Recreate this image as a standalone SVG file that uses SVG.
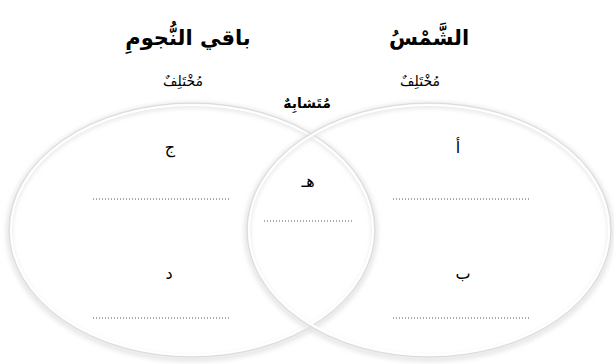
<svg xmlns="http://www.w3.org/2000/svg" width="614" height="364" viewBox="0 0 614 364">
<defs>
<filter id="sh" x="-10%" y="-10%" width="120%" height="125%">
<feGaussianBlur stdDeviation="2.5"/>
</filter>
</defs>
<style>
.t{font-family:"DejaVu Sans",sans-serif;fill:#000;text-anchor:middle;direction:rtl}
.title{font-size:21px;font-weight:bold}
.sub{font-size:14px}
.lbl{font-size:16px}
.shadow{fill:none;stroke:#e2e2e2;stroke-width:5;filter:url(#sh)}
.ring{fill:none;stroke:#dadada;stroke-width:1}
.inner{fill:none;stroke:#ffffff;stroke-width:2}
.dots{stroke:#555;stroke-width:1;stroke-dasharray:1 2}
</style>
<rect width="614" height="364" fill="#fff"/>
<g id="venn">
<g id="left-circle">
<ellipse class="shadow" cx="192" cy="232" rx="183" ry="127"/>
<ellipse class="ring" cx="192" cy="230" rx="183" ry="127"/>
<ellipse class="inner" cx="192" cy="230" rx="181" ry="125"/>
</g>
<g id="right-circle">
<ellipse class="shadow" cx="429" cy="232" rx="182" ry="127"/>
<ellipse class="ring" cx="429" cy="230" rx="182" ry="127"/>
<ellipse class="inner" cx="429" cy="230" rx="180" ry="125"/>
</g>
</g>
<g id="titles">
<text class="t title" x="429" y="45">الشَّمْسُ</text>
<text class="t title" x="188" y="45">باقي النُّجومِ</text>
<text class="t sub" x="183" y="86">مُخْتَلِفٌ</text>
<text class="t sub" x="420" y="86">مُخْتَلِفٌ</text>
<text class="t sub" x="307" y="108" font-weight="bold">مُتَشابِهٌ</text>
</g>
<g id="labels">
<text class="t lbl" x="170" y="153">ج</text>
<text class="t lbl" x="458" y="153">أ</text>
<text class="t lbl" x="308" y="187">هـ</text>
<text class="t lbl" x="169" y="279">د</text>
<text class="t lbl" x="463" y="279">ب</text>
</g>
<g id="lines">
<line class="dots" x1="93" y1="199" x2="229" y2="199"/>
<line class="dots" x1="93" y1="318" x2="229" y2="318"/>
<line class="dots" x1="393" y1="199" x2="529" y2="199"/>
<line class="dots" x1="393" y1="318" x2="529" y2="318"/>
<line class="dots" x1="264" y1="221" x2="353" y2="221"/>
</g>
</svg>
